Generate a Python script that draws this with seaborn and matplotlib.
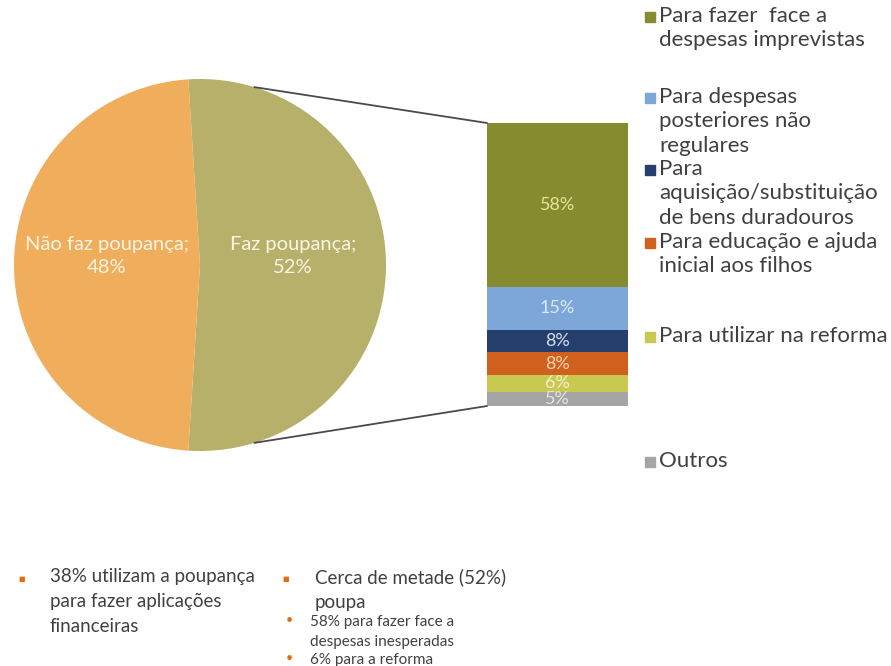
import matplotlib
matplotlib.use("Agg")
import matplotlib.pyplot as plt
from matplotlib.patches import ConnectionPatch, Rectangle
import numpy as np
import seaborn as sns

# --- data ---
pie_labels = ["Faz poupança", "Não faz poupança"]
pie_values = [52, 48]
pie_colors = ["#b6b06a", "#f0ad5c"]

seg_names = ["Outros", "Para utilizar na reforma", "Para educação e ajuda\ninicial aos filhos",
             "Para\naquisição/substituição\nde bens duradouros",
             "Para despesas\nposteriores não\nregulares",
             "Para fazer  face a\ndespesas imprevistas"]
seg_values = [5, 6, 8, 8, 15, 58]
seg_colors = ["#a5a5a5", "#c9c952", "#d0601e", "#243f6b", "#7da7d8", "#878b30"]
seg_text_colors = ["#e4e4e4", "#f3f1c4", "#fbd4b4", "#d4deef", "#dde9f6", "#e6e49c"]

bullets = ["38% utilizam a poupança\npara fazer aplicações\nfinanceiras",
           "Cerca de metade (52%)\npoupa"]
sub_bullets = ["58% para fazer face a\ndespesas inesperadas", "6% para a reforma"]

sns.set_theme(style="white")
plt.rcParams["font.family"] = ["Lato", "DejaVu Sans"]
text_col = "#404040"

W, H = 891, 666
fig = plt.figure(figsize=(W / 100, H / 100), dpi=100)

def box(x0, y0, x1, y1):
    # pixel box (top-left origin) -> figure fraction rect
    return [x0 / W, 1 - y1 / H, (x1 - x0) / W, (y1 - y0) / H]

# --- pie ---
ax_pie = fig.add_axes(box(14, 79, 386, 451))
start = -pie_values[0] / sum(pie_values) * 360 / 2
wedges, texts = ax_pie.pie(
    pie_values, colors=pie_colors, startangle=start, counterclock=True,
    labels=[f"{n};\n{v}%" for n, v in zip(pie_labels, pie_values)],
    labeldistance=0.5, textprops=dict(color="#f9f5e4", fontsize=14.5),
    wedgeprops=dict(linewidth=0))
for t in texts:
    t.set_ha("center")
    t.set_multialignment("center")
    t.set_linespacing(1.45)
    x, y = t.get_position()
    t.set_position((x, y + 0.05))
ax_pie.set_xlim(-1, 1)
ax_pie.set_ylim(-1, 1)
ax_pie.set_aspect("equal")
ax_pie.axis("off")

# --- stacked bar (breakdown of "Faz poupança") ---
ax_bar = fig.add_axes(box(487, 123, 628, 406))
bottom = 0
for v, c, tc in zip(seg_values, seg_colors, seg_text_colors):
    sns.barplot(x=["Faz"], y=[v], bottom=bottom, color=c, width=1,
                saturation=1, linewidth=0, ax=ax_bar)
    ax_bar.bar_label(ax_bar.containers[-1], labels=[f"{v}%"], label_type="center",
                     color=tc, fontsize=13)
    bottom += v
ax_bar.set_xlim(-0.5, 0.5)
ax_bar.set_ylim(0, sum(seg_values))
ax_bar.axis("off")

# connector lines pie -> bar
ang = np.deg2rad(73)
for sgn, yb in [(1, sum(seg_values)), (-1, 0)]:
    con = ConnectionPatch(xyA=(np.cos(ang), sgn * np.sin(ang)), coordsA=ax_pie.transData,
                          xyB=(-0.5, yb), coordsB=ax_bar.transData,
                          color="#4a4a4a", lw=1.3)
    fig.add_artist(con)

# --- legend (manual, spaced like the original) ---
legend_y = [17, 98, 170, 243, 337, 462]  # first-line centre, px
for name, c, y in zip(seg_names[::-1], seg_colors[::-1], legend_y):
    fig.patches.append(Rectangle((645 / W, 1 - (y + 5) / H), 10 / W, 10 / H,
                                 transform=fig.transFigure, color=c, figure=fig))
    fig.text(659 / W, 1 - (y - 11) / H, name, ha="left", va="top", fontsize=16,
             color=text_col, linespacing=1.28)

# --- bullet notes ---
bullet_col = "#e46c0a"
for x_b, x_t, txt in [(18, 50, bullets[0]), (282, 315, bullets[1])]:
    fig.text(x_b / W, 1 - 578 / H, "■", ha="left", va="center", fontsize=5, color=bullet_col)
    fig.text(x_t / W, 1 - 568 / H, txt, ha="left", va="top", fontsize=13.5,
             color=text_col, linespacing=1.57)
for y, txt in zip([620, 658], sub_bullets):
    fig.text(286 / W, 1 - y / H, "•", ha="left", va="center", fontsize=9, color=bullet_col)
    fig.text(310 / W, 1 - (y - 5) / H, txt, ha="left", va="top", fontsize=11,
             color=text_col, linespacing=1.55)

fig.savefig("out.png", dpi=100)
